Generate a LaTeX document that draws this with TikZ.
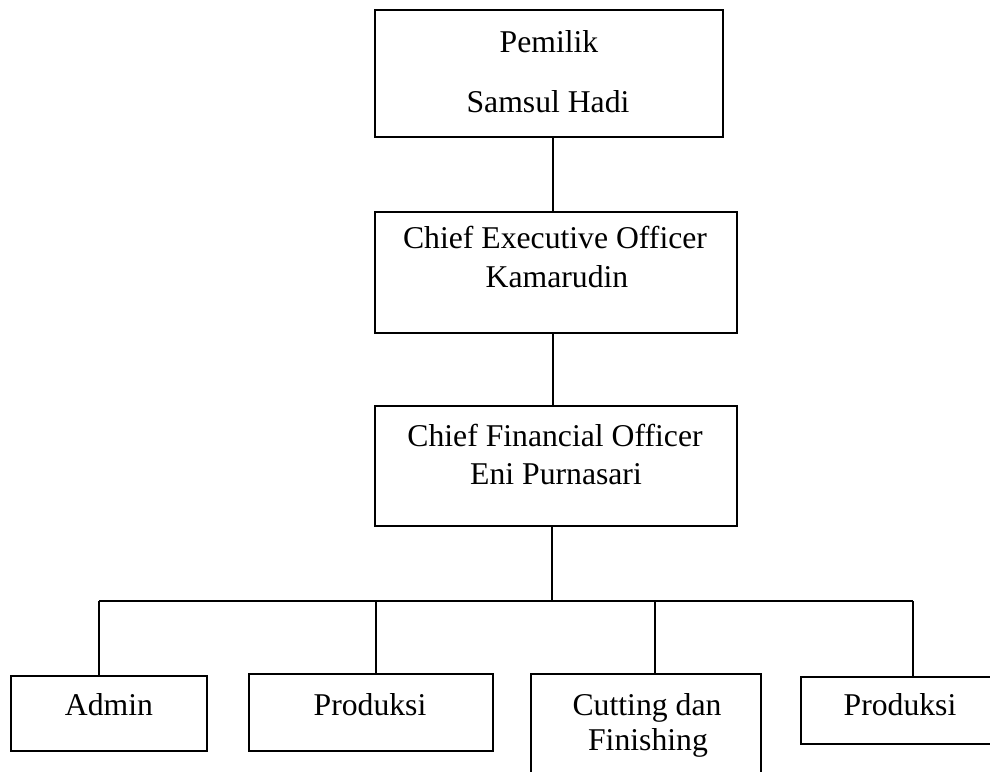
\documentclass[tikz,border=0pt]{standalone}
\usepackage{fontspec}
\setmainfont{Liberation Serif}
\begin{document}
\begin{tikzpicture}[x=1pt,y=-1pt,
  box/.style={draw=black,line width=1.8pt,inner sep=0pt,rectangle},
  lbl/.style={anchor=base,inner sep=0pt,font=\fontsize{31.7}{38}\selectfont},
  conn/.style={draw=black,line width=2pt}]
\useasboundingbox (0,0) rectangle (990,771);
\clip (0,0) rectangle (990,771);
% boxes
\node[box,minimum width=348pt,minimum height=127pt] (pem) at (549,73.5) {};
\node[box,minimum width=362pt,minimum height=121pt] (ceo) at (556,272.5) {};
\node[box,minimum width=362pt,minimum height=120pt] (cfo) at (556,466) {};
\node[box,minimum width=196pt,minimum height=75pt] (adm) at (109,713.5) {};
\node[box,minimum width=244pt,minimum height=77pt] (prod1) at (371,712.5) {};
\node[box,minimum width=230pt,minimum height=126pt] (cut) at (646,737) {};
\node[box,minimum width=209pt,minimum height=67pt] (prod2) at (905.5,710.5) {};
% texts
\node[lbl] (t1) at (549,52) {Pemilik};
\node[lbl] (t2) at (548,112) {Samsul Hadi};
\node[lbl] (t3) at (555,248) {Chief Executive Officer};
\node[lbl] (t4) at (557,287) {Kamarudin};
\node[lbl] (t5) at (555,446) {Chief Financial Officer};
\node[lbl] (t6) at (556,484) {Eni Purnasari};
\node[lbl] (t7) at (109,715) {Admin};
\node[lbl] (t8) at (370,715) {Produksi};
\node[lbl] (t9) at (647,715) {Cutting dan};
\node[lbl] (t10) at (648,750) {Finishing};
\node[lbl] (t11) at (900,715) {Produksi};
% connector coordinates
\coordinate (x1) at (553,0);
\coordinate (barM) at (552,601);
\coordinate (barL) at (99,601);
\coordinate (barR) at (913,601);
\coordinate (d2) at (376,601);
\coordinate (d3) at (655,601);
% connectors
\draw[conn] (pem.south -| x1) -- (ceo.north -| x1);
\draw[conn] (ceo.south -| x1) -- (cfo.north -| x1);
\draw[conn] (cfo.south -| barM) -- (barM);
\draw[conn] (barL) -- (barR);
\draw[conn] (barL) -- (barL |- adm.north);
\draw[conn] (d2) -- (d2 |- prod1.north);
\draw[conn] (d3) -- (d3 |- cut.north);
\draw[conn] (barR) -- (barR |- prod2.north);
\end{tikzpicture}
\end{document}
